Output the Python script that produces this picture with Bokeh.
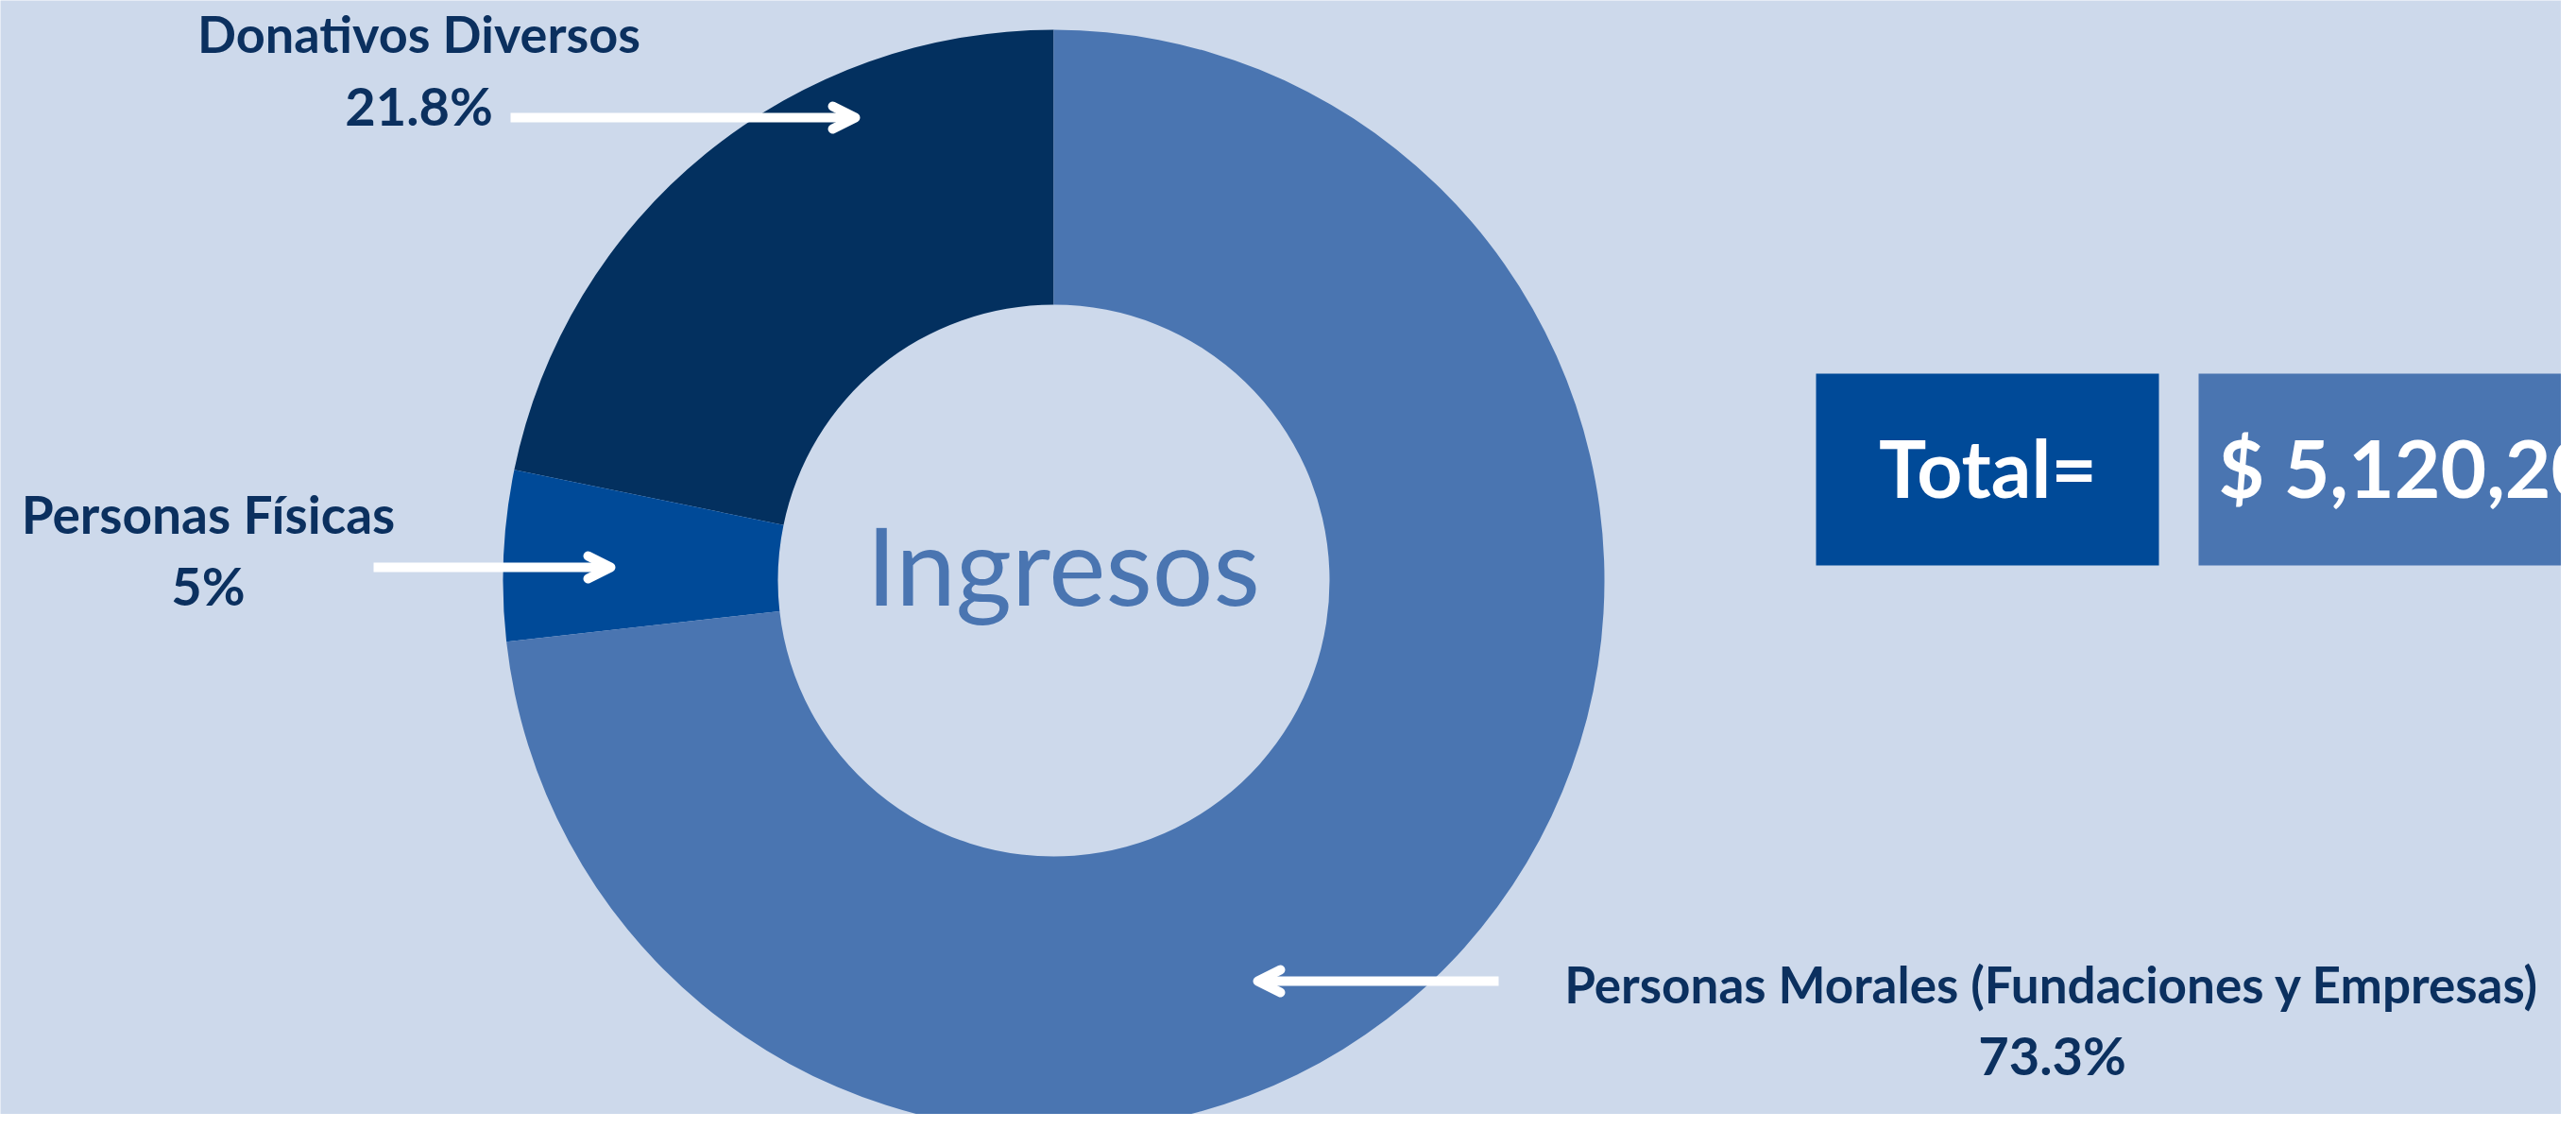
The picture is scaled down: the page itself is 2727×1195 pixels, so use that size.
import numpy as np
from bokeh.plotting import figure
from bokeh.models import Range1d, ColumnDataSource, Arrow, OpenHead
from bokeh.core.properties import value
from bokeh.embed import file_html
from bokeh.resources import INLINE

# ---- data ----
categories = ["Donativos Diversos", "Personas Físicas", "Personas Morales (Fundaciones y Empresas)"]
shares = [21.8, 5.0, 73.3]
share_labels = ["21.8%", "5%", "73.3%"]
colors = ["#03305F", "#004A98", "#4A75B1"]
center_title = "Ingresos"
total_label = "Total="
total_value = "$ 5,120,200"

# ---- layout (pixel coords of the 2727x1195 page, y down) ----
W, H = 2727, 1195
BG = "#CDD9EB"
NAVY = "#0B305F"
cx, cy = 1115, 614
r_out, r_in = 583, 292
# x, baseline1, baseline2, size1, size2
label_pos = [(443, 53, 130, 54, 56), (220, 562, 638, 55, 56), (2172, 1059, 1135, 53, 56)]
arrows = [(540, 905, 124), (395, 646, 600), (1586, 1331, 1038)]  # x_start, x_tip, y
BASE_K = 0.34  # compensation of the renderer's alphabetic baseline offset (fraction of font size)

def Y(y):
    return H - y

def YB(y, fs):
    return H - (y - BASE_K * fs)

p = figure(width=W - 16, height=H - 16, output_backend="svg", toolbar_location=None,
           x_range=Range1d(0, W - 16), y_range=Range1d(16, H),
           background_fill_color=BG, border_fill_color=BG, min_border=0)
p.axis.visible = False
p.grid.visible = False
p.outline_line_color = None

tot = sum(shares)
fr = np.array(shares) / tot
cum = np.concatenate([[0], np.cumsum(fr)])
start = np.pi / 2 + 2 * np.pi * cum[:-1]
end = np.pi / 2 + 2 * np.pi * cum[1:]
src = ColumnDataSource(dict(start=start, end=end, color=colors))
p.annular_wedge(x=cx, y=Y(cy), inner_radius=r_in, outer_radius=r_out,
                start_angle="start", end_angle="end", fill_color="color",
                line_color=None, source=src, direction="anticlock")

font = value("Lato")
for (lx, b1, b2, s1, s2), cat, sl in zip(label_pos, categories, share_labels):
    p.text(x=[lx], y=[YB(b1, s1)], text=[cat], text_font=font, text_font_size=f"{s1}px",
           text_font_style="bold", text_color=NAVY, text_align="center", text_baseline="alphabetic")
    p.text(x=[lx], y=[YB(b2, s2)], text=[sl], text_font=font, text_font_size=f"{s2}px",
           text_font_style="bold", text_color=NAVY, text_align="center", text_baseline="alphabetic")

for xs, xt, ay in arrows:
    p.add_layout(Arrow(end=OpenHead(size=24, line_color="white", line_width=10,
                                    line_cap="round", line_join="round"),
                       x_start=xs, y_start=Y(ay), x_end=xt, y_end=Y(ay),
                       line_color="white", line_width=10))

p.text(x=[cx + 10], y=[YB(635, 114)], text=[center_title], text_font=font, text_font_size="114px",
       text_color="#4A75B1", text_align="center", text_baseline="alphabetic")

# total boxes
p.quad(left=[1922, 2327], right=[2285, 2800], top=[Y(395), Y(395)], bottom=[Y(598), Y(598)],
       fill_color=["#004A98", "#4A75B1"], line_color=None)
p.text(x=[2104], y=[YB(523, 84)], text=[total_label], text_font=font, text_font_size="84px",
       text_font_style="bold", text_color="white", text_align="center", text_baseline="alphabetic")
p.text(x=[2348], y=[YB(523, 84)], text=[total_value], text_font=font, text_font_size="84px",
       text_font_style="bold", text_color="white", text_align="left", text_baseline="alphabetic")

open("out.html", "w").write(file_html(p, INLINE))
